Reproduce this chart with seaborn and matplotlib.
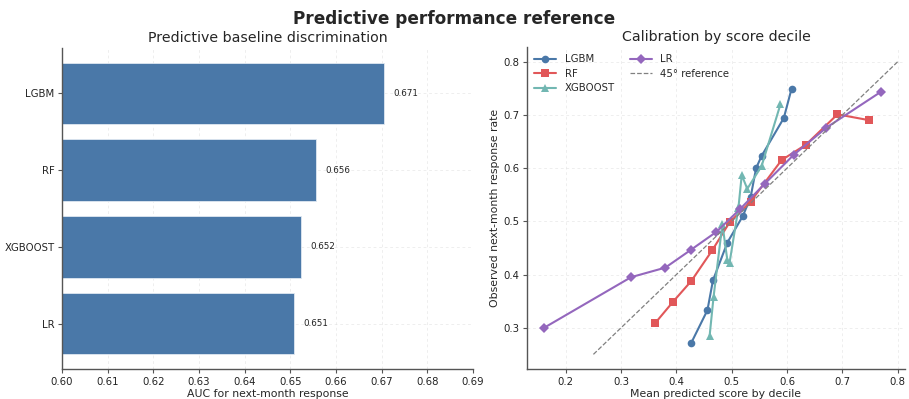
import matplotlib
matplotlib.use("Agg")
import matplotlib.pyplot as plt
import seaborn as sns
import pandas as pd

# Discrimination (AUC) per model
models = ["LGBM", "RF", "XGBOOST", "LR"]
auc = [0.6706, 0.6557, 0.6523, 0.6508]

# Calibration by score decile: mean predicted score (x) vs observed rate (y)
lgbm_pred = [0.427, 0.456, 0.466, 0.492, 0.520, 0.534, 0.544, 0.554, 0.594, 0.608]
lgbm_obs = [0.272, 0.333, 0.389, 0.460, 0.510, 0.545, 0.600, 0.623, 0.694, 0.749]
rf_pred = [0.361, 0.394, 0.427, 0.465, 0.496, 0.534, 0.590, 0.634, 0.691, 0.748]
rf_obs = [0.308, 0.349, 0.388, 0.446, 0.498, 0.537, 0.615, 0.644, 0.701, 0.690]
xgb_pred = [0.460, 0.467, 0.483, 0.492, 0.496, 0.512, 0.518, 0.528, 0.554, 0.588]
xgb_obs = [0.285, 0.357, 0.495, 0.427, 0.422, 0.525, 0.587, 0.561, 0.604, 0.720]
lr_pred = [0.161, 0.318, 0.380, 0.427, 0.472, 0.515, 0.560, 0.612, 0.671, 0.769]
lr_obs = [0.300, 0.395, 0.413, 0.447, 0.480, 0.523, 0.571, 0.625, 0.676, 0.743]
ref_line = [0.25, 0.80]

sns.set_theme(style="white")
plt.rcParams["font.family"] = ["DejaVu Sans"]

W, H = 909, 399
fig = plt.figure(figsize=(W / 100, H / 100), dpi=100)
ax1 = fig.add_axes([62 / W, 30 / H, 411 / W, 321 / H])
ax2 = fig.add_axes([527 / W, 30 / H, 378 / W, 322 / H])

bar_color = "#4A78A8"
grid_kw = dict(color="#dddddd", linestyle=(0, (4, 4)), linewidth=0.5, alpha=0.7)

# Left panel: AUC bars
auc_df = pd.DataFrame({"model": models, "auc": auc})
sns.barplot(data=auc_df, x="auc", y="model", orient="h", color=bar_color,
            saturation=1, width=0.8, edgecolor="#dfe8f2", linewidth=0.6, ax=ax1)
for i, v in enumerate(auc):
    ax1.text(v + 0.002, i, f"{v:.3f}", va="center", ha="left", fontsize=6.3, color="#222222")
ax1.set_xlim(0.60, 0.69)
ax1.set_ylim(3.59, -0.59)
ax1.set_xticks([0.60 + 0.01 * k for k in range(10)])
ax1.set_xticklabels([f"{0.60 + 0.01 * k:.2f}" for k in range(10)])
ax1.set_xlabel("AUC for next-month response", fontsize=7.8, labelpad=2)
ax1.set_ylabel("")
ax1.set_title("Predictive baseline discrimination", fontsize=10.2, pad=4)
ax1.grid(True, **grid_kw)
ax1.set_axisbelow(True)

# Right panel: calibration curves
series = [
    ("LGBM", lgbm_pred, lgbm_obs, "#4A78A8", "o"),
    ("RF", rf_pred, rf_obs, "#E15759", "s"),
    ("XGBOOST", xgb_pred, xgb_obs, "#72B7B2", "^"),
    ("LR", lr_pred, lr_obs, "#9467BD", "D"),
]
for name, xs, ys, col, mk in series:
    df = pd.DataFrame({"pred": xs, "obs": ys})
    sns.lineplot(data=df, x="pred", y="obs", sort=False, color=col, marker=mk,
                 markersize=5.5, markeredgewidth=0, linewidth=1.5, label=name, ax=ax2)
ax2.plot(ref_line, ref_line, linestyle="--", color="gray", linewidth=0.9, label="45° reference")
ax2.set_xlim(0.13, 0.813)
ax2.set_ylim(0.2225, 0.8275)
ax2.set_xlabel("Mean predicted score by decile", fontsize=7.8, labelpad=2)
ax2.set_ylabel("Observed next-month response rate", fontsize=7.8, labelpad=2)
ax2.set_title("Calibration by score decile", fontsize=10.2, pad=4)
ax2.grid(True, **grid_kw)
ax2.set_axisbelow(True)
ax2.legend(loc="upper left", ncol=2, frameon=False, fontsize=7.3, handlelength=2.2,
           borderaxespad=0.3, columnspacing=1.5, labelspacing=0.45)

for ax in (ax1, ax2):
    sns.despine(ax=ax)
    for s in ("left", "bottom"):
        ax.spines[s].set_color("#555555")
        ax.spines[s].set_linewidth(1.0)
    ax.tick_params(axis="both", labelsize=7.3, colors="#222222", length=3, width=0.8,
                   pad=2.5, bottom=True, left=True, color="#555555")

fig.suptitle("Predictive performance reference", fontsize=12.2, fontweight="bold", y=0.975)

fig.savefig("out.png", dpi=100)
